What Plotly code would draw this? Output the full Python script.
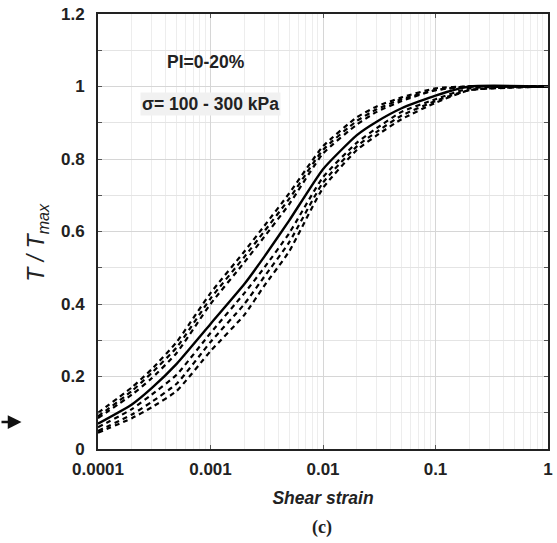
import plotly.graph_objects as go

strain = [0.0001, 0.0002, 0.0003, 0.0005, 0.001, 0.002, 0.003, 0.005, 0.01, 0.02, 0.03, 0.05, 0.1, 0.2, 1]
mean_curve = [0.07, 0.123, 0.168, 0.235, 0.345, 0.455, 0.53, 0.63, 0.772, 0.866, 0.903, 0.94, 0.975, 1.0, 1.0]
upper_1 = [0.10, 0.17, 0.22, 0.295, 0.43, 0.545, 0.615, 0.705, 0.835, 0.915, 0.945, 0.97, 0.995, 1.0, 1.0]
upper_2 = [0.09, 0.16, 0.21, 0.28, 0.415, 0.53, 0.60, 0.69, 0.825, 0.905, 0.937, 0.965, 0.99, 1.0, 1.0]
upper_3 = [0.085, 0.15, 0.195, 0.265, 0.40, 0.515, 0.585, 0.675, 0.815, 0.895, 0.93, 0.96, 0.99, 1.0, 1.0]
lower_1 = [0.06, 0.11, 0.15, 0.205, 0.32, 0.43, 0.50, 0.595, 0.75, 0.845, 0.885, 0.93, 0.965, 0.995, 1.0]
lower_2 = [0.05, 0.095, 0.13, 0.18, 0.295, 0.40, 0.475, 0.57, 0.735, 0.835, 0.875, 0.92, 0.96, 0.99, 1.0]
lower_3 = [0.045, 0.085, 0.115, 0.16, 0.27, 0.37, 0.45, 0.545, 0.72, 0.825, 0.865, 0.91, 0.955, 0.99, 1.0]

x_tickvals = [0.0001, 0.001, 0.01, 0.1, 1]
x_ticktext = ["0.0001", "0.001", "0.01", "0.1", "1"]
y_tickvals = [0, 0.2, 0.4, 0.6, 0.8, 1.0, 1.2]
y_ticktext = ["0", "0.2", "0.4", "0.6", "0.8", "1", "1.2"]
x_minor = [m * d for d in [0.0001, 0.001, 0.01, 0.1] for m in range(2, 10)]

fig = go.Figure()
for ys in [upper_1, upper_2, upper_3, lower_1, lower_2, lower_3]:
    fig.add_trace(go.Scatter(x=strain, y=ys, mode="lines",
                             line=dict(color="black", width=2.2, dash="5px,4px", shape="spline", smoothing=0.5),
                             showlegend=False, hoverinfo="skip"))
fig.add_trace(go.Scatter(x=strain, y=mean_curve, mode="lines",
                         line=dict(color="black", width=2.4, shape="spline", smoothing=0.5),
                         showlegend=False))

sans = "Liberation Sans, Arial, sans-serif"
tickfont = dict(family=sans, size=17, color="#222", weight="bold")
fig.update_xaxes(type="log", range=[-4, 0], tickvals=x_tickvals, ticktext=x_ticktext,
                 showgrid=True, gridcolor="#d6d6d6", gridwidth=1,
                 minor=dict(tickvals=x_minor, showgrid=True, gridcolor="#ededed", ticks=""),
                 showline=True, linecolor="#222", linewidth=2, mirror="ticks",
                 ticks="inside", ticklen=4, tickcolor="#555",
                 tickfont=tickfont, ticklabelstandoff=4,
                 title=dict(text="<b><i>Shear strain</i></b>",
                            font=dict(family=sans, size=17.5, color="#222"),
                            standoff=13),
                 zeroline=False)
fig.update_yaxes(range=[0, 1.2], tickvals=y_tickvals, ticktext=y_ticktext,
                 showgrid=True, gridcolor="#d6d6d6", gridwidth=1,
                 minor=dict(dtick=0.1, showgrid=True, gridcolor="#e4e4e4", ticks="inside", ticklen=4, tickcolor="#555"),
                 showline=True, linecolor="#222", linewidth=2, mirror="ticks",
                 ticks="inside", ticklen=4, tickcolor="#555",
                 tickfont=tickfont, ticklabelstandoff=8,
                 zeroline=False)

fig.add_annotation(text="<i>T / T<sub>max</sub></i>", xref="paper", yref="paper", x=-0.134, y=0.476,
                   xanchor="center", yanchor="middle", textangle=-90, showarrow=False,
                   font=dict(family=sans, size=23, color="#222"))
fig.add_annotation(text="<b>PI=0-20%</b>", xref="paper", yref="paper", x=0.24, y=0.890,
                   xanchor="center", yanchor="middle",
                   showarrow=False, font=dict(family=sans, size=17.5, color="#222"))
fig.add_annotation(text="<b>σ= 100 - 300 kPa</b>", xref="paper", yref="paper", x=0.25, y=0.793,
                   xanchor="center", yanchor="middle",
                   showarrow=False, bgcolor="#f1f1f1",
                   font=dict(family=sans, size=17.5, color="#222"))
fig.add_annotation(text="<b>(c)</b>", xref="paper", yref="paper", x=0.498, y=-0.18,
                   xanchor="center", showarrow=False, yanchor="middle",
                   font=dict(family="Liberation Serif, Times New Roman, serif", size=18, color="#222"))
fig.add_annotation(x=-0.17, y=0.062, ax=-22, ay=0, xref="paper", yref="paper", axref="pixel", ayref="pixel",
                   text="", showarrow=True, arrowhead=2, arrowsize=1.1, arrowwidth=2.5, arrowcolor="#111")

fig.update_layout(width=557, height=543, margin=dict(l=98, r=4, t=14, b=94),
                  plot_bgcolor="white", paper_bgcolor="white")
fig.write_html("out.html")
